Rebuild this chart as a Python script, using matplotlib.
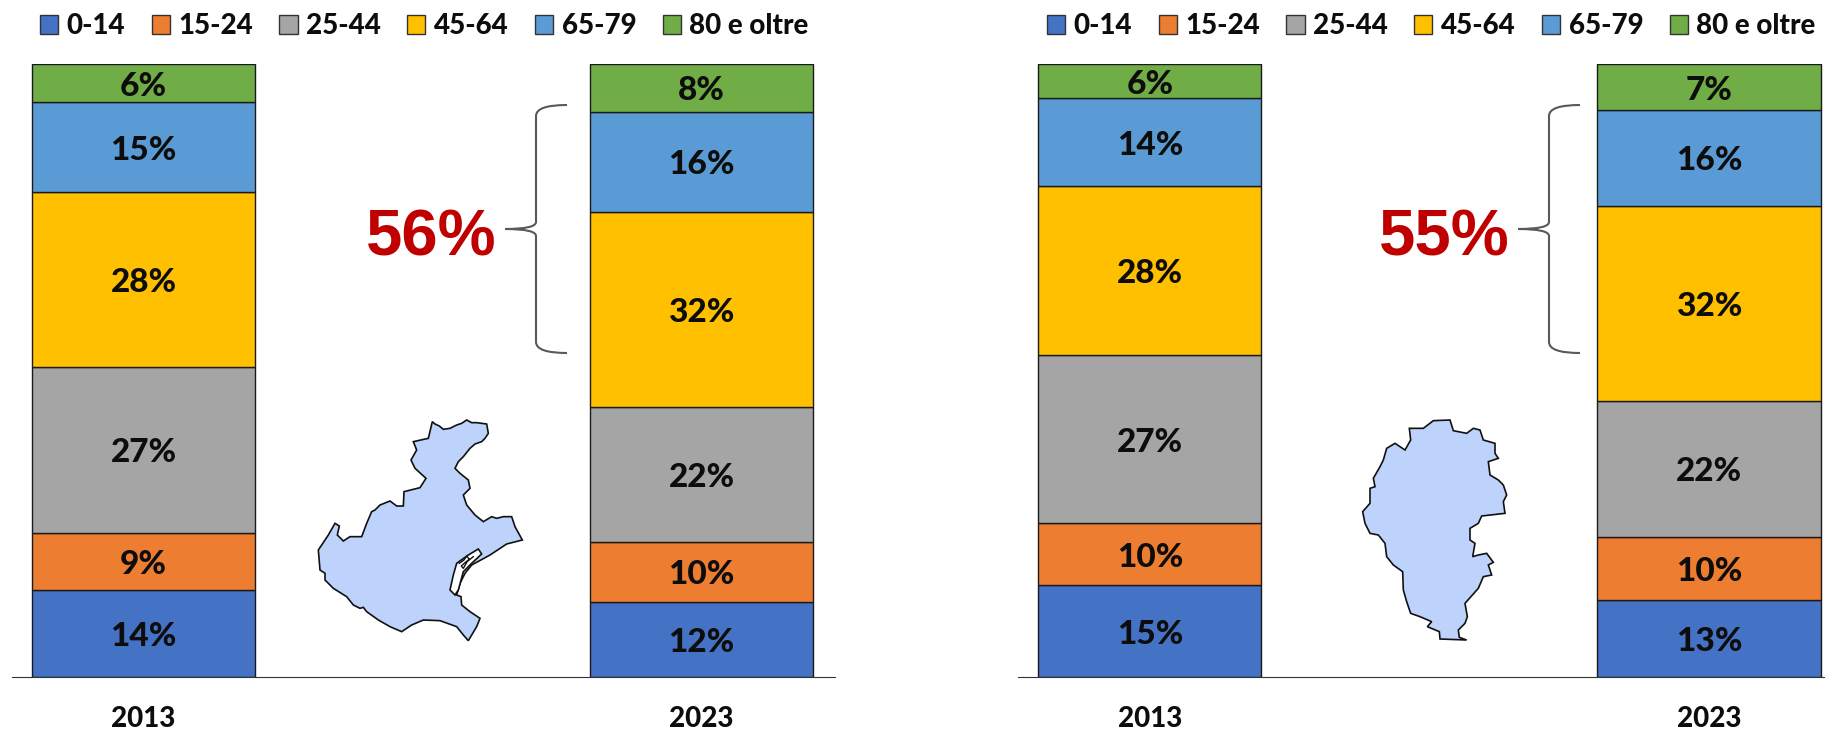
import numpy as np
import matplotlib
matplotlib.use("Agg")
from matplotlib import pyplot as plt
from matplotlib.patches import Patch, PathPatch, Polygon
from matplotlib.path import Path

plt.rcParams['font.family'] = ['Lato', 'DejaVu Sans']

fasce = ['0-14', '15-24', '25-44', '45-64', '65-79', '80 e oltre']
colori = ['#4472C4', '#ED7D31', '#A5A5A5', '#FFC000', '#5B9BD5', '#70AD47']
anni = ['2013', '2023']

# altezze, etichette come stampate
veneto_2013 = [14.2, 9.3, 27.1, 28.5, 14.7, 6.2]
veneto_2023 = [12.2, 9.9, 21.9, 31.9, 16.3, 7.8]
bl_2013 = [15.0, 10.1, 27.4, 27.6, 14.3, 5.6]
bl_2023 = [12.5, 10.3, 22.3, 31.8, 15.6, 7.5]
etich_veneto_2013 = ['14%', '9%', '27%', '28%', '15%', '6%']
etich_veneto_2023 = ['12%', '10%', '22%', '32%', '16%', '8%']
etich_bl_2013 = ['15%', '10%', '27%', '28%', '14%', '6%']
etich_bl_2023 = ['13%', '10%', '22%', '32%', '16%', '7%']
totale_veneto = '56%'
totale_bl = '55%'

# contorni delle mappe, in pixel dell'immagine
mappa_veneto = [(397,65),(405,72),(418,78),(430,88),(450,85),(470,75),(485,70),(500,60),(515,68),(530,68),(560,72),(565,100),(555,115),(545,125),
    (525,132),(510,145),(490,170),(475,185),(465,205),(480,220),(505,240),(510,265),(490,285),(500,315),(525,345),(550,365),
    (575,350),(590,355),(610,350),(635,350),(645,380),(667,420),(620,432),(570,465),(515,495),(495,520),(480,550),
    (470,585),(483,590),(485,615),(510,635),(540,655),(530,680),(505,722),(490,705),(470,680),(420,662),
    (370,660),(335,675),(305,695),(270,680),(235,660),(200,635),(190,622),(180,625),(160,615),(140,590),(100,565),
    (75,540),(75,520),(60,510),(55,450),(85,405),(105,370),(118,378),(112,405),(130,423),(150,410),(185,410),
    (200,370),(215,335),(225,330),(240,315),(270,303),(290,318),(310,318),(312,275),(360,263),(378,235),(345,205),(333,180),
    (350,150),(340,125),(385,115)]
laguna_veneto = [(470,490),(505,465),(535,447),(545,462),(515,490),(490,515),(475,570),(465,585),(450,570),(460,525)]
isolette_veneto = [(478,490),(492,480),(500,468),(508,478),(495,488),(484,498),(490,505),(502,484),(520,470)]
mappa_bl = [(280,62),(330,60),(340,92),(380,100),(400,85),(420,90),(430,120),(465,130),(465,160),(475,175),
    (445,185),(450,225),(475,240),(490,255),(500,285),(490,305),(495,340),(425,348),(415,370),(390,385),
    (390,420),(405,430),(398,470),(415,465),(440,460),(460,487),(445,495),(455,525),(430,530),(415,565),
    (375,610),(382,650),(375,670),(355,690),(358,712),(380,720),(300,717),(298,695),(262,680),(275,665),
    (240,650),(212,640),(200,605),(190,570),(188,515),(160,495),(140,470),(135,430),(115,405),(90,400),
    (75,370),(68,335),(90,310),(90,265),(105,260),(100,235),(120,200),(130,180),(140,145),(165,130),
    (195,150),(212,120),(208,85),(250,85)]


def pannello(pos, xlim, v1, v2, e1, e2):
    ax = fig.add_axes(pos)
    for x, vals, et in [(0, v1, e1), (1, v2, e2)]:
        sotto = 0
        for i in range(len(vals)):
            ax.bar(x, vals[i], 0.399, bottom=sotto, color=colori[i], edgecolor='#1a1a1a', linewidth=1)
            ax.annotate(et[i], (x, sotto + vals[i] / 2), xytext=(0, -2.2), textcoords='offset points',
                        ha='center', va='center', fontsize=24, fontweight='black', color='#0d0d0d')
            sotto += vals[i]
    ax.set_xlim(*xlim)
    ax.set_ylim(0, 100)
    ax.set_xticks([0, 1])
    ax.set_xticklabels(anni, fontsize=20, fontweight='black', color='#0d0d0d')
    ax.tick_params(axis='x', length=0, pad=21)
    ax.set_yticks([])
    for s in ['top', 'left', 'right']:
        ax.spines[s].set_visible(False)
    ax.spines['bottom'].set_color('#333333')
    return ax


def legenda(x):
    maniglie = [Patch(facecolor=c, edgecolor='#333333', linewidth=1) for c in colori]
    fig.legend(maniglie, fasce, loc='center left', bbox_to_anchor=(x / 1825, 1 - 26 / 731), ncol=6,
               frameon=False, handlelength=0.65, handleheight=0.65, handletextpad=0.3,
               columnspacing=0.96, borderpad=0, borderaxespad=0,
               prop={'size': 20, 'weight': 'black'}, labelcolor='#0d0d0d')


def graffa(ax, dx):
    x0 = 505 + dx
    x1 = 536 + dx
    x2 = 567 + dx
    vert = [(x2, 105), (x1, 105), (x1, 116), (x1, 222), (x1, 229), (x0, 229),
            (x1, 229), (x1, 236), (x1, 342), (x1, 353), (x2, 353)]
    cod = [Path.MOVETO, Path.CURVE3, Path.CURVE3, Path.LINETO, Path.CURVE3, Path.CURVE3,
           Path.CURVE3, Path.CURVE3, Path.LINETO, Path.CURVE3, Path.CURVE3]
    ax.add_patch(PathPatch(Path(vert, cod), fill=False, edgecolor='#595959', linewidth=1.5))


def mappa(ax, punti, ox, oy, colore='#BDD3FB'):
    pts = np.array(punti, dtype=float) / 3 + [ox, oy]
    ax.add_patch(Polygon(pts, closed=True, facecolor=colore, edgecolor='#111111', linewidth=1.2))


fig = plt.figure(figsize=(18.25, 7.31), dpi=100)

pannello([12 / 1825, 54 / 731, 823 / 1825, 613 / 731], (-0.2357, 1.2393),
         veneto_2013, veneto_2023, etich_veneto_2013, etich_veneto_2023)
pannello([1018 / 1825, 54 / 731, 807 / 1825, 613 / 731], (-0.236, 1.2075),
         bl_2013, bl_2023, etich_bl_2013, etich_bl_2023)
legenda(40)
legenda(1047)

sopra = fig.add_axes([0, 0, 1, 1], facecolor='none')
sopra.set_xlim(0, 1825)
sopra.set_ylim(731, 0)
sopra.axis('off')

graffa(sopra, 0)
graffa(sopra, 1013)
sopra.text(431, 239, totale_veneto, ha='center', va='center', fontsize=47, fontweight='bold',
           color='#C00000', family='Liberation Sans')
sopra.text(1444, 239, totale_bl, ha='center', va='center', fontsize=47, fontweight='bold',
           color='#C00000', family='Liberation Sans')

mappa(sopra, mappa_veneto, 300, 400)
mappa(sopra, laguna_veneto, 300, 400, 'white')
isole = np.array(isolette_veneto, dtype=float) / 3 + [300, 400]
sopra.plot(isole[:, 0], isole[:, 1], color='#111111', linewidth=1)
mappa(sopra, mappa_bl, 1340, 400)

fig.savefig('out.png', dpi=100)
